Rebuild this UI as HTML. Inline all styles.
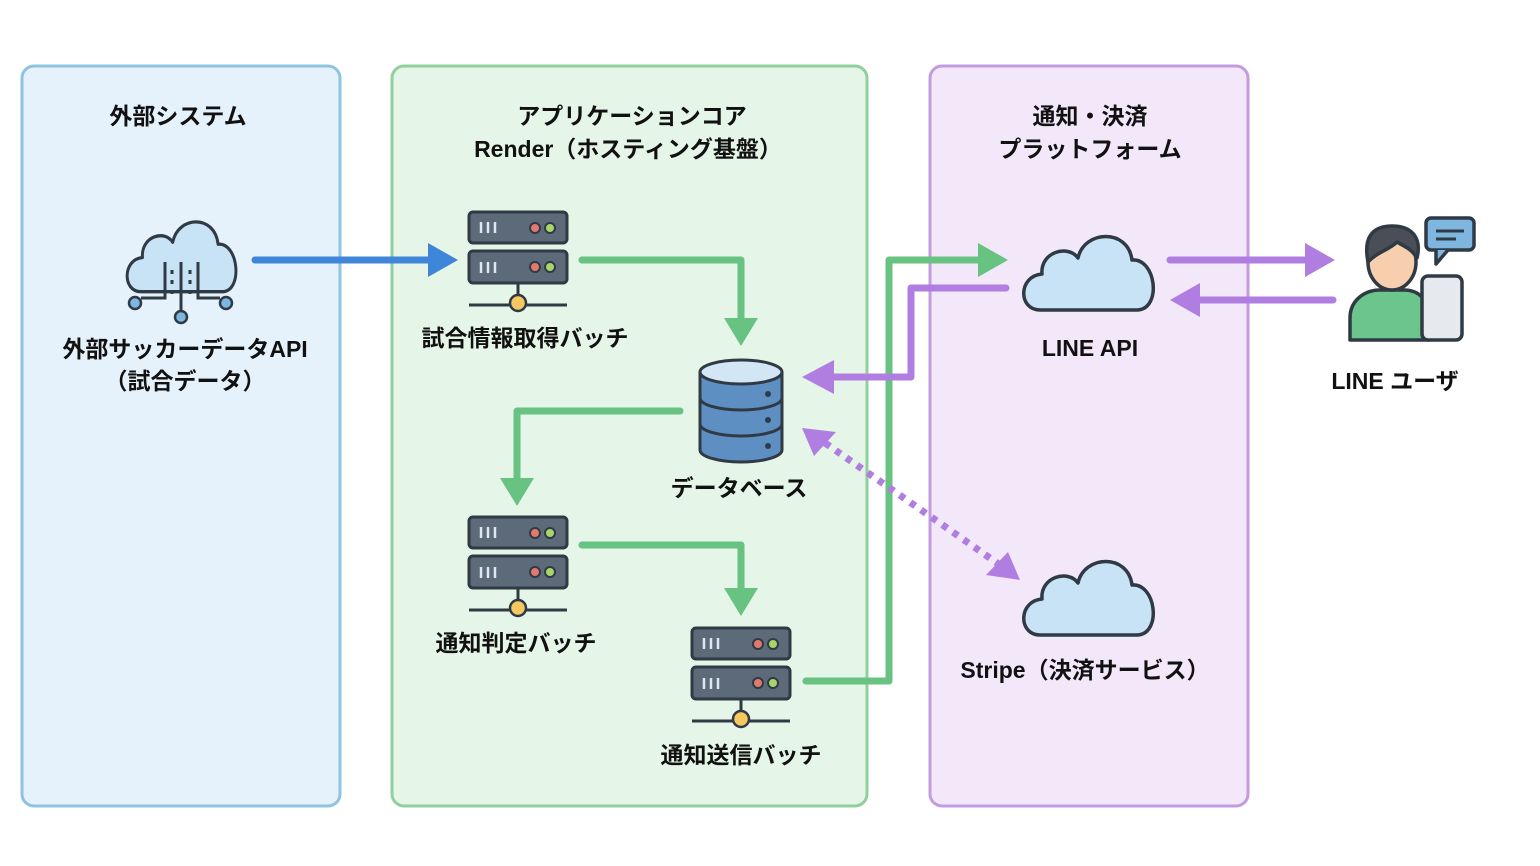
<!DOCTYPE html>
<html><head><meta charset="utf-8"><style>
html,body{margin:0;padding:0;background:#fff;}
svg{display:block;}
text{font-family:"Liberation Sans","Noto Sans CJK JP",sans-serif;font-weight:bold;fill:#111;font-size:23px;text-anchor:middle;}
</style></head><body>
<svg width="1540" height="866" viewBox="0 0 1540 866" xmlns="http://www.w3.org/2000/svg">
<defs>
<g id="srv">
  <rect x="0" y="0" width="98" height="31" rx="4" fill="#5c6a7a" stroke="#2f3a45" stroke-width="3"/>
  <rect x="0" y="39" width="98" height="32" rx="4" fill="#5c6a7a" stroke="#2f3a45" stroke-width="3"/>
  <g stroke="#dfe6ee" stroke-width="2.5"><path d="M12 10v11M19 10v11M26 10v11M12 50v11M19 50v11M26 50v11"/></g>
  <circle cx="66" cy="16" r="5" fill="#e07a6e" stroke="#2f3a45" stroke-width="2"/>
  <circle cx="81" cy="16" r="5" fill="#a6d66a" stroke="#2f3a45" stroke-width="2"/>
  <circle cx="66" cy="55" r="5" fill="#e07a6e" stroke="#2f3a45" stroke-width="2"/>
  <circle cx="81" cy="55" r="5" fill="#a6d66a" stroke="#2f3a45" stroke-width="2"/>
  <path d="M49 71v20M0 93h98" stroke="#2f3a45" stroke-width="3"/>
  <circle cx="49" cy="91" r="8" fill="#f6c85f" stroke="#2f3a45" stroke-width="2.5"/>
</g>
<g id="cloud">
  <path d="M20 86 C-2 86 -2 52 22 50 C20 28 48 20 58 34 C64 6 108 4 112 36 C136 34 142 84 118 86 Z" fill="#c9e3f6" stroke="#2f3a45" stroke-width="3.5" stroke-linejoin="round"/>
</g>
</defs>
<rect x="22" y="66" width="318" height="740" rx="12" fill="#e6f2fb" stroke="#8fc3e2" stroke-width="3"/>
<rect x="392" y="66" width="475" height="740" rx="12" fill="#e5f5e8" stroke="#8fd09c" stroke-width="3"/>
<rect x="930" y="66" width="318" height="740" rx="12" fill="#f3e8fa" stroke="#c29be0" stroke-width="3"/>

<text x="178" y="124">外部システム</text>
<text x="632" y="124">アプリケーションコア</text>
<text x="628" y="157">Render（ホスティング基盤）</text>
<text x="1090" y="124">通知・決済</text>
<text x="1090" y="157">プラットフォーム</text>

<!-- external cloud -->
<g transform="translate(124,210) scale(0.84,0.95)"><use href="#cloud"/></g>
<g stroke="#2f3a45" stroke-width="3" fill="none">
<path d="M165 262v36h-24M198 262v36h22M181 262v49"/>
<path d="M172 270v4M172 280v4M172 290v4M190 270v4M190 280v4M190 290v4"/>
</g>
<circle cx="135" cy="303" r="6" fill="#7fb6e0" stroke="#2f3a45" stroke-width="2.5"/>
<circle cx="226" cy="303" r="6" fill="#7fb6e0" stroke="#2f3a45" stroke-width="2.5"/>
<circle cx="181" cy="317" r="6" fill="#7fb6e0" stroke="#2f3a45" stroke-width="2.5"/>
<text x="185" y="357">外部サッカーデータAPI</text>
<text x="185" y="389">（試合データ）</text>

<use href="#srv" x="469" y="212"/>
<text x="525" y="346">試合情報取得バッチ</text>
<use href="#srv" x="469" y="517"/>
<text x="516" y="651">通知判定バッチ</text>
<use href="#srv" x="692" y="628"/>
<text x="741" y="763">通知送信バッチ</text>

<!-- DB -->
<g stroke="#2f3a45" stroke-width="3">
<path d="M700 372v78a41 12 0 0 0 82 0v-78" fill="#5e8fc2"/>
<ellipse cx="741" cy="372" rx="41" ry="12" fill="#d2e6f6"/>
<path d="M700 398a41 12 0 0 0 82 0M700 424a41 12 0 0 0 82 0" fill="none"/>
</g>
<circle cx="768" cy="394" r="3" fill="#2f3a45"/><circle cx="768" cy="420" r="3" fill="#2f3a45"/><circle cx="768" cy="446" r="3" fill="#2f3a45"/>
<text x="739" y="496">データベース</text>

<use href="#cloud" x="1020" y="224"/>
<text x="1090" y="356">LINE API</text>
<use href="#cloud" x="1020" y="549"/>
<text x="1085" y="678">Stripe（決済サービス）</text>

<!-- user -->
<g stroke="#2f3a45" stroke-width="3.5" stroke-linejoin="round">
<path d="M1350 340v-22c0-18 15-28 30-28h24c15 0 25 10 25 28v22z" fill="#6cc58a"/>
<ellipse cx="1392" cy="262" rx="24" ry="28" fill="#f7cfae"/>
<path d="M1368 262c-6-30 10-36 24-36 20 0 30 12 25 32-6-10-14-12-20-16-8 8-20 10-29 20z" fill="#4a4f57"/>
<rect x="1422" y="276" width="40" height="64" rx="6" fill="#e6e9ee"/>
<rect x="1426" y="218" width="48" height="32" rx="5" fill="#7fb6e0"/>
<path d="M1436 250l0 14 12-14" fill="#7fb6e0"/>
</g>
<path d="M1436 231h28M1436 239h20" stroke="#2f3a45" stroke-width="3"/>
<text x="1395" y="389">LINE ユーザ</text>

<!-- arrows -->
<g fill="none" stroke-width="7" stroke-linecap="round" stroke-linejoin="round">
<path d="M255 260H432" stroke="#3f86d8"/>
<path d="M582 260H741V322" stroke="#68c281"/>
<path d="M680 411H517V482" stroke="#68c281"/>
<path d="M582 545H741V592" stroke="#68c281"/>
<path d="M806 681H889V260H982" stroke="#68c281"/>
<path d="M1006 288H911V377H830" stroke="#b07ee0"/>
<path d="M1170 260H1310M1333 300H1195" stroke="#b07ee0"/>
<path d="M825 443L1000 565" stroke="#b07ee0" stroke-dasharray="6 7" stroke-linecap="butt"/>
</g>
<polygon points="428,243 458,260 428,277" fill="#3f86d8"/>
<polygon points="724,318 758,318 741,346" fill="#68c281"/>
<polygon points="500,478 534,478 517,506" fill="#68c281"/>
<polygon points="724,588 758,588 741,616" fill="#68c281"/>
<polygon points="978,243 1008,260 978,277" fill="#68c281"/>
<polygon points="834,360 834,394 802,377" fill="#b07ee0"/>
<polygon points="1305,243 1335,260 1305,277" fill="#b07ee0"/>
<polygon points="1200,283 1200,317 1170,300" fill="#b07ee0"/>
<polygon points="802,428 836,432 814,456" fill="#b07ee0"/>
<polygon points="1020,580 986,575 1008,552" fill="#b07ee0"/>
</svg>
</body></html>
